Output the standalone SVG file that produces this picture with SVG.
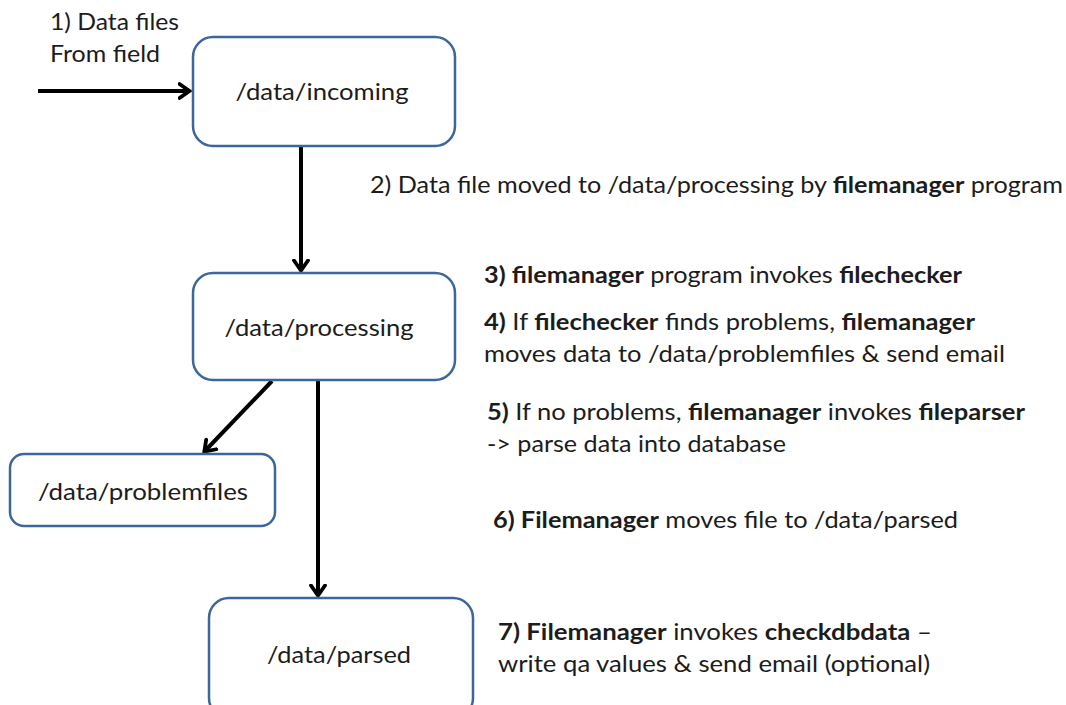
<svg xmlns="http://www.w3.org/2000/svg" width="1066" height="705" viewBox="0 0 1066 705">
  <style>
    .box { fill: #ffffff; stroke: #3d679a; stroke-width: 2.5; }
    .lbl { font-family: Lato, "Open Sans", "Liberation Sans", sans-serif; font-size: 23px; fill: #1c1c1c; }
    .big { font-size: 24px; }
    .mid { text-anchor: middle; }
    .b { font-weight: bold; }
    .edge { fill: none; stroke: #000000; stroke-width: 4; marker-end: url(#arrow); }
  </style>
  <defs>
    <marker id="arrow" viewBox="0 0 14 18" refX="12.5" refY="9" markerWidth="14" markerHeight="18" markerUnits="userSpaceOnUse" orient="auto">
      <path d="M2,2 L12,9 L2,16" fill="none" stroke="#000000" stroke-width="3.8" stroke-linejoin="miter" stroke-linecap="round"/>
    </marker>
  </defs>
  <rect width="1066" height="705" fill="#ffffff"/>

  <g id="connectors">
    <line class="edge" x1="38" y1="91" x2="190" y2="91"/>
    <line class="edge" x1="301" y1="147" x2="301" y2="271"/>
    <line class="edge" x1="272" y1="381" x2="204" y2="452"/>
    <line class="edge" x1="318" y1="381" x2="318" y2="596"/>
  </g>

  <g id="node-incoming">
    <rect class="box" x="193" y="37" width="262" height="109" rx="20"/>
    <text class="lbl big mid" x="322" y="100" textLength="173" lengthAdjust="spacingAndGlyphs">/data/incoming</text>
  </g>

  <g id="node-processing">
    <rect class="box" x="193" y="273" width="262" height="107" rx="20"/>
    <text class="lbl big mid" x="319" y="336" textLength="189" lengthAdjust="spacingAndGlyphs">/data/processing</text>
  </g>

  <g id="node-problemfiles">
    <rect class="box" x="10" y="454" width="265" height="72" rx="14"/>
    <text class="lbl big mid" x="143" y="500" textLength="210" lengthAdjust="spacingAndGlyphs">/data/problemfiles</text>
  </g>

  <g id="node-parsed">
    <rect class="box" x="209" y="598" width="264" height="120" rx="20"/>
    <text class="lbl big mid" x="339" y="663" textLength="144" lengthAdjust="spacingAndGlyphs">/data/parsed</text>
  </g>

  <g id="notes">
    <text class="lbl" x="50" y="30" textLength="129" lengthAdjust="spacingAndGlyphs">1) Data files</text>
    <text class="lbl" x="50" y="62" textLength="110" lengthAdjust="spacingAndGlyphs">From field</text>

    <text class="lbl" x="370" y="193" textLength="693" lengthAdjust="spacingAndGlyphs">2) Data file moved to /data/processing by <tspan class="b">filemanager</tspan> program</text>

    <text class="lbl" x="484" y="283" textLength="478" lengthAdjust="spacingAndGlyphs"><tspan class="b">3) filemanager</tspan> program invokes <tspan class="b">filechecker</tspan></text>

    <text class="lbl" x="484" y="330" textLength="491" lengthAdjust="spacingAndGlyphs"><tspan class="b">4)</tspan> If <tspan class="b">filechecker</tspan> finds problems, <tspan class="b">filemanager</tspan></text>
    <text class="lbl" x="484" y="362" textLength="521" lengthAdjust="spacingAndGlyphs">moves data to /data/problemfiles &amp; send email</text>

    <text class="lbl" x="487" y="420" textLength="538" lengthAdjust="spacingAndGlyphs"><tspan class="b">5)</tspan> If no problems, <tspan class="b">filemanager</tspan> invokes <tspan class="b">fileparser</tspan></text>
    <text class="lbl" x="487" y="452" textLength="299" lengthAdjust="spacingAndGlyphs">-&gt; parse data into database</text>

    <text class="lbl" x="493" y="528" textLength="465" lengthAdjust="spacingAndGlyphs"><tspan class="b">6) Filemanager</tspan> moves file to /data/parsed</text>

    <text class="lbl" x="498" y="640" textLength="434" lengthAdjust="spacingAndGlyphs"><tspan class="b">7) Filemanager</tspan> invokes <tspan class="b">checkdbdata</tspan> –</text>
    <text class="lbl" x="498" y="672" textLength="432" lengthAdjust="spacingAndGlyphs">write qa values &amp; send email (optional)</text>
  </g>
</svg>
